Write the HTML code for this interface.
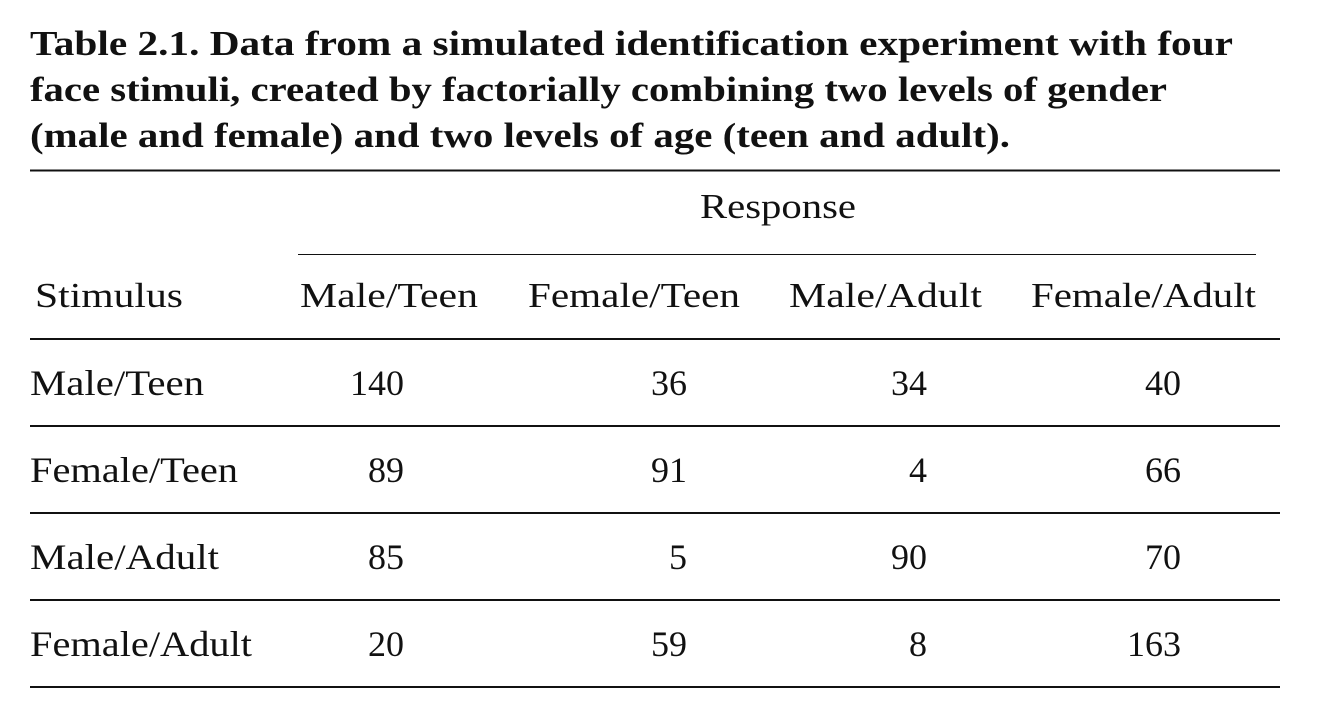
<!DOCTYPE html>
<html>
<head>
<meta charset="utf-8">
<style>
  html,body{margin:0;padding:0;background:#fff;}
  svg{display:block;}
  text{font-family:"Liberation Serif","DejaVu Serif",serif;fill:#111;}
  .t{font-weight:bold;font-size:35px;}
  .h{font-size:35px;}
  .c{font-size:36px;}
</style>
</head>
<body>
<svg width="1318" height="724" viewBox="0 0 1318 724">
  <g>
    <text class="t" x="30" y="55" textLength="1203" lengthAdjust="spacingAndGlyphs">Table 2.1.  Data from a simulated identification experiment with four</text>
    <text class="t" x="30" y="101" textLength="1137" lengthAdjust="spacingAndGlyphs">face stimuli, created by factorially combining two levels of gender</text>
    <text class="t" x="30" y="147" textLength="980" lengthAdjust="spacingAndGlyphs">(male and female) and two levels of age (teen and adult).</text>
  </g>
  <line x1="30" y1="170.5" x2="1280" y2="170.5" stroke="#111" stroke-width="2"/>
  <text class="h" x="778" y="218" text-anchor="middle" textLength="156" lengthAdjust="spacingAndGlyphs">Response</text>
  <line x1="298" y1="254.5" x2="1256" y2="254.5" stroke="#111" stroke-width="1"/>
  <g>
    <text class="h" x="35" y="307" textLength="148" lengthAdjust="spacingAndGlyphs">Stimulus</text>
    <text class="h" x="300" y="307" textLength="178" lengthAdjust="spacingAndGlyphs">Male/Teen</text>
    <text class="h" x="528" y="307" textLength="212" lengthAdjust="spacingAndGlyphs">Female/Teen</text>
    <text class="h" x="789" y="307" textLength="193" lengthAdjust="spacingAndGlyphs">Male/Adult</text>
    <text class="h" x="1031" y="307" textLength="225" lengthAdjust="spacingAndGlyphs">Female/Adult</text>
  </g>
  <line x1="30" y1="339" x2="1280" y2="339" stroke="#111" stroke-width="2"/>

  <g>
    <text class="c" x="30" y="395" textLength="174" lengthAdjust="spacingAndGlyphs">Male/Teen</text>
    <text class="c" x="404" y="395" text-anchor="end">140</text>
    <text class="c" x="687" y="395" text-anchor="end">36</text>
    <text class="c" x="927" y="395" text-anchor="end">34</text>
    <text class="c" x="1181" y="395" text-anchor="end">40</text>
  </g>
  <line x1="30" y1="426" x2="1280" y2="426" stroke="#111" stroke-width="2"/>

  <g>
    <text class="c" x="30" y="482" textLength="208" lengthAdjust="spacingAndGlyphs">Female/Teen</text>
    <text class="c" x="404" y="482" text-anchor="end">89</text>
    <text class="c" x="687" y="482" text-anchor="end">91</text>
    <text class="c" x="927" y="482" text-anchor="end">4</text>
    <text class="c" x="1181" y="482" text-anchor="end">66</text>
  </g>
  <line x1="30" y1="513" x2="1280" y2="513" stroke="#111" stroke-width="2"/>

  <g>
    <text class="c" x="30" y="569" textLength="189" lengthAdjust="spacingAndGlyphs">Male/Adult</text>
    <text class="c" x="404" y="569" text-anchor="end">85</text>
    <text class="c" x="687" y="569" text-anchor="end">5</text>
    <text class="c" x="927" y="569" text-anchor="end">90</text>
    <text class="c" x="1181" y="569" text-anchor="end">70</text>
  </g>
  <line x1="30" y1="600" x2="1280" y2="600" stroke="#111" stroke-width="2"/>

  <g>
    <text class="c" x="30" y="656" textLength="222" lengthAdjust="spacingAndGlyphs">Female/Adult</text>
    <text class="c" x="404" y="656" text-anchor="end">20</text>
    <text class="c" x="687" y="656" text-anchor="end">59</text>
    <text class="c" x="927" y="656" text-anchor="end">8</text>
    <text class="c" x="1181" y="656" text-anchor="end">163</text>
  </g>
  <line x1="30" y1="687" x2="1280" y2="687" stroke="#111" stroke-width="2"/>
</svg>
</body>
</html>
